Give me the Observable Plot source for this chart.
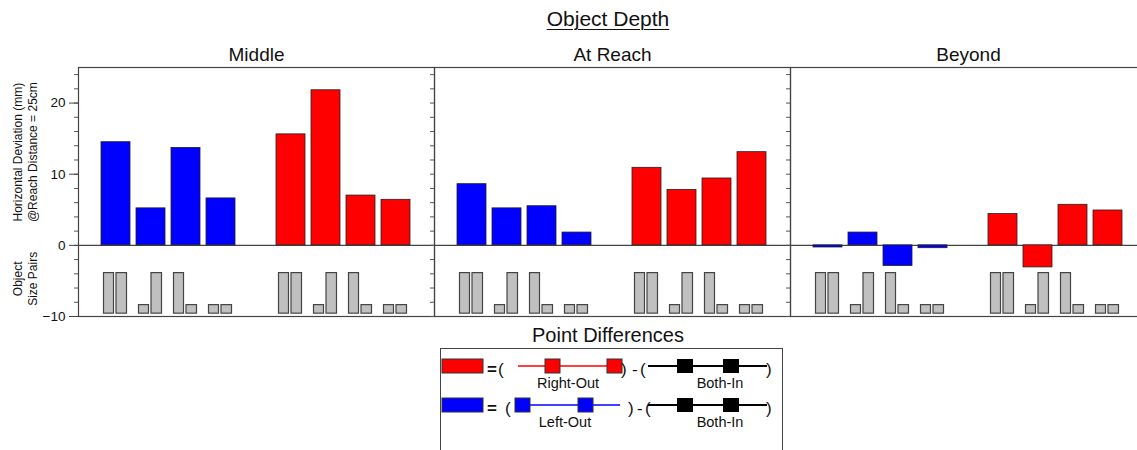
<!DOCTYPE html>
<html>
<head>
<meta charset="utf-8">
<script src="https://cdn.jsdelivr.net/npm/d3@7"></script>
<script src="https://cdn.jsdelivr.net/npm/@observablehq/plot@0.6"></script>
<style>
  html, body { margin: 0; padding: 0; background: #fff; overflow: hidden; width: 1137px; height: 450px; }
  body { font-family: "Liberation Sans", Arial, sans-serif; color: #111; }
  #title { box-sizing: border-box; width: 1137px; height: 34px; padding-top: 4px; padding-left: 79px;
           line-height: 30px; text-align: center; font-size: 21px; }
  #title span { text-decoration: underline; text-underline-offset: 3px; text-decoration-thickness: 1px; }
  #chart { width: 1160px; }
  #chart svg { display: block; overflow: visible; max-width: none !important; }
  #legend svg { display: block; }
</style>
</head>
<body>
<div id="title"><span>Object Depth</span></div>
<div id="chart"></div>
<div id="legend"></div>
<script>
// ---- data ----
const depths = ["Middle", "At Reach", "Beyond"];
const conditions = ["Left-Out", "Right-Out"];
const leftOutSlots = ["Left-Out L/L", "Left-Out S/L", "Left-Out L/S", "Left-Out S/S"];
const rightOutSlots = ["Right-Out L/L", "Right-Out S/L", "Right-Out L/S", "Right-Out S/S"];
const slots = [...leftOutSlots, " ", ...rightOutSlots];

const middleLeftOut = [14.5, 5.2, 13.7, 6.6];
const middleRightOut = [15.6, 21.8, 7.0, 6.4];
const atReachLeftOut = [8.6, 5.2, 5.5, 1.8];
const atReachRightOut = [10.9, 7.8, 9.4, 13.1];
const beyondLeftOut = [-0.3, 1.8, -2.9, -0.4];
const beyondRightOut = [4.4, -3.1, 5.7, 4.9];

// object size pairs (left object, right object)
const sizePairs = [["large", "large"], ["small", "large"], ["large", "small"], ["small", "small"]];
const glyphBase = -9.6;
const glyphTop = {large: -3.9, small: -8.4};

const yTicks = [-10, 0, 10, 20];
const yMinorTicks = d3.range(-10, 26, 2);
const colors = ["#0000ff", "#ff0000"];

const yTitles = [
  {depth: "Middle", y: 13.1, text: "Horizontal Deviation (mm)\n@Reach Distance = 25cm"},
  {depth: "Middle", y: -4.7, text: "Object\nSize Pairs"}
];

// ---- tables ----
const leftOut = [middleLeftOut, atReachLeftOut, beyondLeftOut];
const rightOut = [middleRightOut, atReachRightOut, beyondRightOut];

const bars = depths.flatMap((depth, d) => [
  ...leftOut[d].map((value, i) => ({depth, slot: leftOutSlots[i], condition: "Left-Out", value})),
  ...rightOut[d].map((value, i) => ({depth, slot: rightOutSlots[i], condition: "Right-Out", value}))
]);

const glyphs = depths.flatMap(depth =>
  [leftOutSlots, rightOutSlots].flatMap(group =>
    group.flatMap((slot, i) => sizePairs[i].map((size, side) => ({
      depth, slot, side, y1: glyphBase, y2: glyphTop[size]
    })))
  )
);

const glyphStyle = {fx: "depth", x: "slot", y1: "y1", y2: "y2", fill: "#c0c0c0", stroke: "#444", strokeWidth: 1.2};

const chart = Plot.plot({
  width: 1147,
  height: 290,
  marginLeft: 77,
  marginRight: 0.5,
  marginTop: 33,
  marginBottom: 8,
  style: {fontFamily: "'Liberation Sans', Arial, sans-serif", color: "#111", background: "transparent", maxWidth: "none"},
  fx: {domain: depths, padding: 0},
  x: {domain: slots, paddingInner: 0.167, paddingOuter: 0.535, axis: null},
  y: {domain: [-10, 25]},
  color: {domain: conditions, range: colors},
  marks: [
    Plot.ruleY([0], {stroke: "#444", strokeWidth: 1.2}),
    Plot.barY(bars, {fx: "depth", x: "slot", y: "value", fill: "condition", stroke: "#222", strokeWidth: 0.8}),
    Plot.barY(glyphs.filter(g => g.side === 0), {...glyphStyle, insetLeft: 2.5, insetRight: 16.5}),
    Plot.barY(glyphs.filter(g => g.side === 1), {...glyphStyle, insetLeft: 15, insetRight: 3.5}),
    Plot.frame({stroke: "#444", strokeWidth: 1.2}),
    Plot.axisY({ticks: yMinorTicks, tickSize: 4, tickFormat: () => "", label: null, facetAnchor: null, stroke: "#555"}),
    Plot.axisY({ticks: yTicks, tickSize: 9, tickPadding: 4, fontSize: 13.5, label: null, stroke: "#444"}),
    Plot.axisFx({anchor: "top", tickSize: 0, tickPadding: 7, fontSize: 19, label: null}),
    Plot.text(yTitles, {fx: "depth", y: "y", text: "text", frameAnchor: "left", dx: -54, rotate: -90,
      fontSize: 12, lineHeight: 1.22, textAnchor: "middle", lineAnchor: "middle", fill: "#111"})
  ]
});
document.getElementById("chart").appendChild(chart);

// ---- legend (Point Differences) ----
const legendRows = [
  {color: colors[1], name: "Right-Out", squares: [545, 607], line: [518, 618], open: [498], close: 621, minus: 632, open2: 640, nameX: 568},
  {color: colors[0], name: "Left-Out", squares: [515, 578], line: [515, 620], open: [505], close: 628, minus: 637, open2: 645, nameX: 565}
];
const lg = d3.select("#legend").append("svg").attr("width", 1137).attr("height", 126)
  .style("font-family", "'Liberation Sans', Arial, sans-serif");
lg.append("text").attr("x", 608).attr("y", 18).attr("text-anchor", "middle").attr("font-size", 20).attr("fill", "#111").text("Point Differences");
lg.append("rect").attr("x", 440.5).attr("y", 24.5).attr("width", 342).attr("height", 200).attr("fill", "none").attr("stroke", "#444");
legendRows.forEach((r, k) => {
  const top = k === 0 ? 35 : 74;
  const cy = top + 7;
  const base = top + 16;
  lg.append("rect").attr("x", 442).attr("y", top).attr("width", 41).attr("height", 14).attr("fill", r.color).attr("stroke", "#333");
  lg.append("text").attr("x", 487).attr("y", base).attr("font-size", 17).attr("font-weight", "bold").attr("fill", "#111").text("=");
  lg.append("text").attr("x", r.open[0]).attr("y", base).attr("font-size", 17).attr("fill", "#111").text("(");
  lg.append("line").attr("x1", r.line[0]).attr("x2", r.line[1]).attr("y1", cy).attr("y2", cy).attr("stroke", r.color).attr("stroke-width", 1.6);
  r.squares.forEach(x => lg.append("rect").attr("x", x).attr("y", top).attr("width", 15).attr("height", 14).attr("fill", r.color).attr("stroke", "#333"));
  lg.append("text").attr("x", r.close).attr("y", base).attr("font-size", 17).attr("fill", "#111").text(")");
  lg.append("text").attr("x", r.minus).attr("y", base).attr("font-size", 17).attr("fill", "#111").text("-");
  lg.append("text").attr("x", r.open2).attr("y", base).attr("font-size", 17).attr("fill", "#111").text("(");
  lg.append("line").attr("x1", 648).attr("x2", 767).attr("y1", cy).attr("y2", cy).attr("stroke", "#000").attr("stroke-width", 2);
  [677, 723].forEach(x => lg.append("rect").attr("x", x).attr("y", top).attr("width", 16).attr("height", 14).attr("fill", "#000"));
  lg.append("text").attr("x", 766).attr("y", base).attr("font-size", 17).attr("fill", "#111").text(")");
  lg.append("text").attr("x", r.nameX).attr("y", top + 29).attr("text-anchor", "middle").attr("font-size", 14.5).attr("fill", "#111").text(r.name);
  lg.append("text").attr("x", 720).attr("y", top + 29).attr("text-anchor", "middle").attr("font-size", 14.5).attr("fill", "#111").text("Both-In");
});
</script>
</body>
</html>
